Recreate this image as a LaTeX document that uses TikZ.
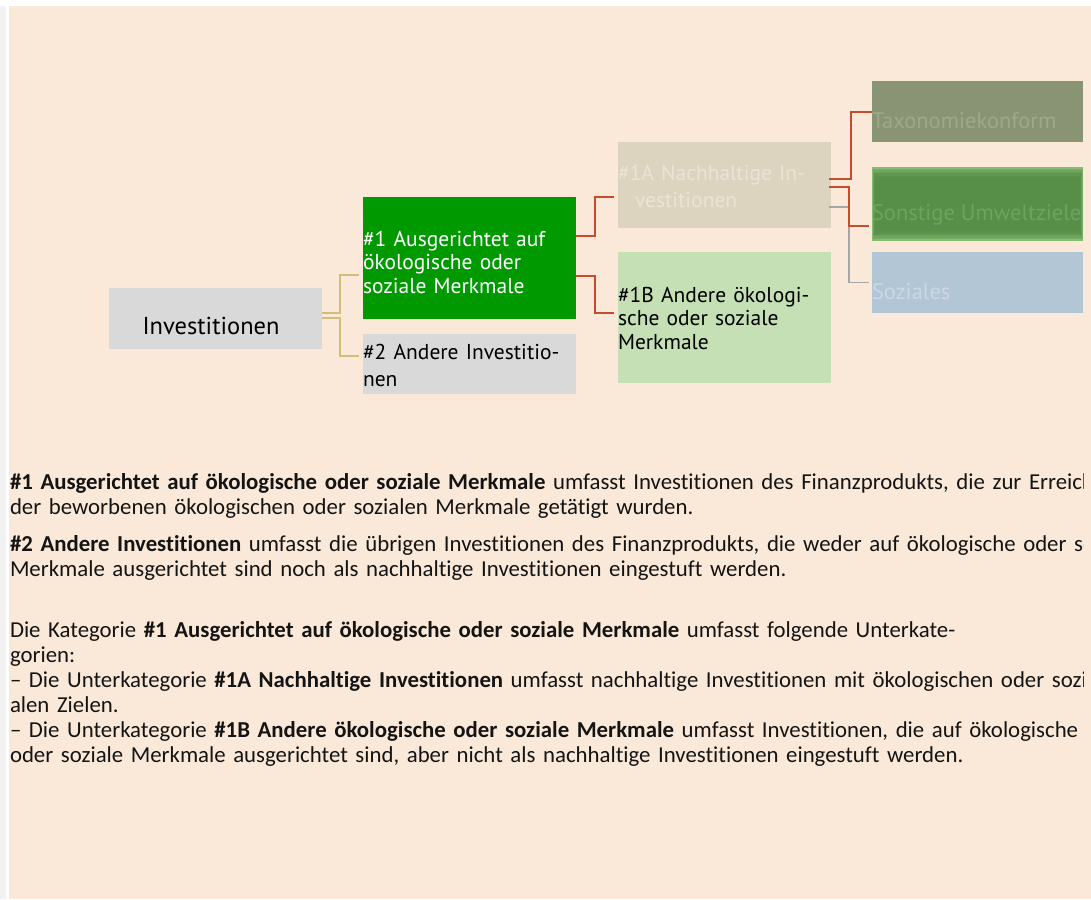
\documentclass[tikz,border=0pt]{standalone}
\usepackage{fontspec}
\setmainfont{Carlito}[Ligatures={NoCommon}]
\newfontfamily\boxfont{PT Sans}[Ligatures={NoCommon}]
\definecolor{bgbeige}{RGB}{250,233,216}
\definecolor{stripgray}{RGB}{242,242,242}
\definecolor{boxgray}{RGB}{217,217,217}
\definecolor{boxgreen}{RGB}{0,153,0}
\definecolor{boxsand}{RGB}{221,212,192}
\definecolor{sandtext}{RGB}{234,227,214}
\definecolor{boxlight}{RGB}{197,224,180}
\definecolor{boxolive}{RGB}{137,148,117}
\definecolor{olivetext}{RGB}{158,168,138}
\definecolor{sonout}{RGB}{134,188,112}
\definecolor{sonin}{RGB}{84,139,70}
\definecolor{sontext}{RGB}{110,163,95}
\definecolor{boxblue}{RGB}{179,198,214}
\definecolor{bluetext}{RGB}{203,216,228}
\definecolor{khaki}{RGB}{207,191,120}
\definecolor{linkred}{RGB}{197,77,45}
\definecolor{linkgray}{RGB}{166,166,166}
\definecolor{bodytext}{RGB}{20,20,20}
\tikzset{
  box/.style={inner sep=0pt, outer sep=0pt, anchor=north west},
  boxtxt/.style={inner sep=0pt, outer sep=0pt, anchor=base west, align=left, font=\boxfont\fontsize{21.5}{23.5}\selectfont},
  bigtxt/.style={inner sep=0pt, outer sep=0pt, font=\boxfont\fontsize{22.5}{26}\selectfont},
  bodypar/.style={inner sep=0pt, outer sep=0pt, anchor=base west, align=left, text width=1400pt, text=bodytext, font=\fontsize{22.8}{25}\selectfont},
  klink/.style={draw=khaki, line width=1.6pt},
  rlink/.style={draw=linkred, line width=2pt},
  glink/.style={draw=linkgray, line width=1.5pt}
}
\begin{document}
\begin{tikzpicture}[x=1pt,y=-1pt]
\useasboundingbox (0,0) rectangle (1091,899);
\fill[white] (0,0) rectangle (1091,899);
\fill[stripgray] (0,6) rectangle (6,899);
\fill[bgbeige] (9,6) rectangle (1091,899);

% boxes
\node[box, fill=boxgray, minimum width=213pt, minimum height=61pt] (inv) at (109,288) {};
\node[box, fill=boxgreen, minimum width=213pt, minimum height=122pt] (b1) at (363,197) {};
\node[box, fill=boxgray, minimum width=213pt, minimum height=60pt] (b2) at (363,334) {};
\node[box, fill=boxsand, minimum width=213pt, minimum height=86pt] (b1a) at (618,142) {};
\node[box, fill=boxlight, minimum width=213pt, minimum height=131pt] (b1b) at (618,252) {};
\node[box, fill=boxolive, minimum width=211pt, minimum height=61pt] (tax) at (872,81) {};
\node[box, fill=sonout, minimum width=211pt, minimum height=74pt] (son) at (872,167) {};
\foreach \i in {0,...,7} {
  \fill[sonin, opacity=0.25] (872.5+0.4*\i,169+1.3*\i) rectangle (1082.5-0.4*\i,239-1.3*\i);
}
\node[box, fill=boxblue, minimum width=211pt, minimum height=61pt] (soz) at (872,252) {};

% box texts
\node[bigtxt, anchor=base, font=\boxfont\fontsize{24.5}{28}\selectfont] (tinv) at (211,334) {Investitionen};
\node[boxtxt, text=white, text width=213pt] (tb1) at (363,246)
  {\makebox[195pt][s]{\#1 Ausgerichtet auf}\\\makebox[195pt][s]{ökologische oder}\\soziale Merkmale};
\node[boxtxt, text=black, text width=213pt, font=\boxfont\fontsize{21.5}{27}\selectfont] (tb2) at (363,359)
  {\makebox[211pt][s]{\#2 Andere Investitio-}\\nen};
\node[boxtxt, text=sandtext, text width=213pt, font=\boxfont\fontsize{21.5}{27}\selectfont] (tb1a) at (618,180)
  {\makebox[198pt][s]{\#1A Nachhaltige In-}\\\hspace*{17pt}vestitionen};
\node[boxtxt, text=black, text width=213pt] (tb1b) at (618,302)
  {\makebox[203pt][s]{\#1B Andere ökologi-}\\\makebox[203pt][s]{sche oder soziale}\\Merkmale};
\begin{scope}
\clip (0,0) rectangle (1083,899);
\node[bigtxt, anchor=base west, text=olivetext] (ttax) at (872,128) {Taxonomiekonform};
\node[bigtxt, anchor=base west, text=sontext] (tson) at (872,220) {Sonstige Umweltziele};
\node[bigtxt, anchor=base west, text=bluetext] (tsoz) at (872,299) {Soziales};
\end{scope}

% connectors
\draw[klink] ([yshift=5.5pt]inv.east) -| ([xshift=-23pt,yshift=-17pt]b1.west) -- ([xshift=-4pt,yshift=-17pt]b1.west);
\draw[klink] ([yshift=0.5pt]inv.east) -| ([xshift=-23pt,yshift=8pt]b2.west) -- ([xshift=-4pt,yshift=8pt]b2.west);
\draw[rlink] ([yshift=22pt]b1.east) -| ([xshift=-23pt,yshift=-12pt]b1a.west) -- ([xshift=-4pt,yshift=-12pt]b1a.west);
\draw[rlink] ([yshift=-18pt]b1.east) -| ([xshift=-23pt,yshift=4.5pt]b1b.west) -- ([xshift=-4pt,yshift=4.5pt]b1b.west);
\draw[glink] ([xshift=-2pt,yshift=-22pt]b1a.east) -| ([xshift=-23pt,yshift=0pt]soz.west) -- ([xshift=-3pt]soz.west);
\draw[rlink] ([xshift=-2pt,yshift=6pt]b1a.east) -| ([xshift=-21pt]tax.west) -- (tax.west);
\draw[rlink] ([xshift=-2pt,yshift=-2pt]b1a.east) -| ([xshift=-23pt,yshift=-22pt]son.west) -- ([xshift=-3pt,yshift=-22pt]son.west);

% body text
\begin{scope}
\clip (0,0) rectangle (1083,899);
\node[bodypar] (p1) at (10,489)
  {\textbf{\#1 Ausgerichtet auf ökologische oder soziale Merkmale} umfasst Investitionen des Finanzprodukts, die zur Erreichung\\
   der beworbenen ökologischen oder sozialen Merkmale getätigt wurden.};
\node[bodypar] (p2) at (10,551)
  {\textbf{\#2 Andere Investitionen} umfasst die übrigen Investitionen des Finanzprodukts, die weder auf ökologische oder soziale\\
   Merkmale ausgerichtet sind noch als nachhaltige Investitionen eingestuft werden.};
\node[bodypar] (p3) at (10,637)
  {Die Kategorie \textbf{\#1 Ausgerichtet auf ökologische oder soziale Merkmale} umfasst folgende Unterkate-\\
   gorien:\\
   – Die Unterkategorie \textbf{\#1A Nachhaltige Investitionen} umfasst nachhaltige Investitionen mit ökologischen oder sozi-\\
   alen Zielen.\\
   – Die Unterkategorie \textbf{\#1B Andere ökologische oder soziale Merkmale} umfasst Investitionen, die auf ökologische\\
   oder soziale Merkmale ausgerichtet sind, aber nicht als nachhaltige Investitionen eingestuft werden.};
\end{scope}
\end{tikzpicture}
\end{document}
